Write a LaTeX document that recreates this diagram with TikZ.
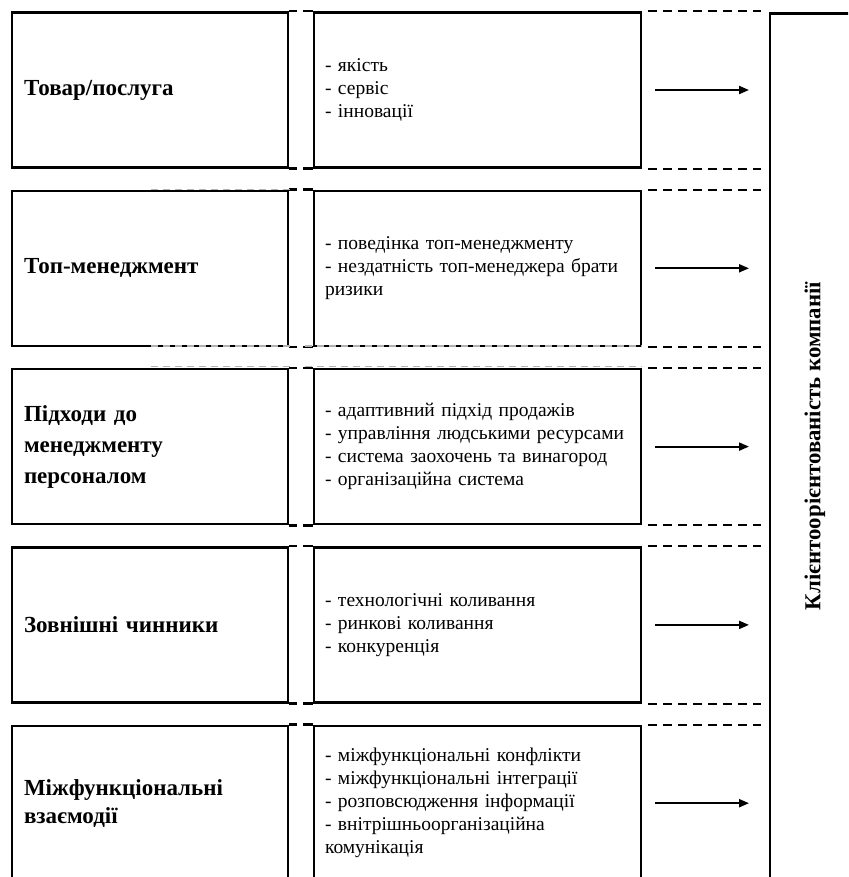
\documentclass[tikz,border=0pt]{standalone}
\usepackage{fontspec}
\setmainfont{Liberation Serif}
\usetikzlibrary{arrows.meta,calc}
\begin{document}
\begin{tikzpicture}[x=1pt,y=-1pt,
  frame/.style={line width=2.4pt},
  lbox/.style={frame, draw, minimum height=155pt, text width=252pt, inner xsep=12pt, inner ysep=0pt,
    align=left, font=\fontsize{23}{28}\selectfont\bfseries},
  mbox/.style={frame, draw, minimum height=155pt, text width=305pt, inner xsep=11pt, inner ysep=0pt,
    align=left, font=\fontsize{19.5}{23}\selectfont},
  dashline/.style={line width=2pt, dash pattern=on 9pt off 6pt, shorten <=6pt, shorten >=8pt},
  ghost/.style={draw=black!30, line width=1.5pt, dash pattern=on 7pt off 5pt},
  arr/.style={line width=2pt, -{Triangle[length=10pt,width=8pt]}, shorten <=13pt, shorten >=20pt}
]
\useasboundingbox (0,0) rectangle (848,877);
\clip (0,0) rectangle (848,877);

% right box
\node[frame, draw, minimum width=122pt, minimum height=915pt, anchor=north west] (r) at (769,12.5) {};
\node[rotate=90, font=\fontsize{22.8}{26}\selectfont\bfseries] (rt) at (815,446) {Клієнтоорієнтованість компанії};

% rows
\node[lbox] (l1) at (150,90) {Товар/послуга};
\node[mbox] (m1) at (477.5,90) {- якість\\- сервіс\\- інновації};

\node[lbox] (l2) at (150,268.3) {Топ-менеджмент};
\node[mbox] (m2) at (477.5,268.3) {- поведінка топ-менеджменту\\- нездатність топ-менеджера брати\\ризики};

\node[lbox, font=\fontsize{23}{31}\selectfont\bfseries] (l3) at (150,446.6) {Підходи до\\менеджменту\\персоналом};
\node[mbox] (m3) at (477.5,446.6) {- адаптивний підхід продажів\\- управління людськими ресурсами\\- система заохочень та винагород\\- організаційна система};

\node[lbox] (l4) at (150,624.9) {Зовнішні чинники};
\node[mbox] (m4) at (477.5,624.9) {- технологічні коливання\\- ринкові коливання\\- конкуренція};

\node[lbox] (l5) at (150,803.2) {Міжфункціональні\\взаємодії};
\node[mbox] (m5) at (477.5,803.2) {- міжфункціональні конфлікти\\- міжфункціональні інтеграції\\- розповсюдження інформації\\- внітрішньоорганізаційна\\комунікація};

\foreach \i in {1,...,5}{
  \draw[frame] (l\i.north east) -- ++(8,0);
  \draw[frame] (l\i.south east) -- ++(8,0);
  \draw[frame] (m\i.north west) -- ++(-10,0);
  \draw[frame] (m\i.south west) -- ++(-10,0);
  \draw[dashline] (m\i.north east) -- (m\i.north east -| r.west);
  \draw[dashline] (m\i.south east) -- (m\i.south east -| r.west);
  \draw[arr] (m\i.east) -- (m\i.east -| r.west);
}

% faint grey dashed traces
\draw[ghost] ($(l2.north east)+(-138,0)$) -- ($(l2.north east)+(2,0)$);
\draw[ghost] ($(l2.south east)+(-138,-1)$) -- ($(l2.south east)+(2,-1)$);
\draw[ghost] ($(l3.north east)+(-138,-1.5)$) -- ($(l3.north east)+(2,-1.5)$);
\draw[ghost] ($(m2.south west)+(-8,-1)$) -- ($(m2.south east)+(0,-1)$);
\draw[ghost] ($(m3.north west)+(-8,-1.5)$) -- ($(m3.north east)+(0,-1.5)$);
\end{tikzpicture}
\end{document}
